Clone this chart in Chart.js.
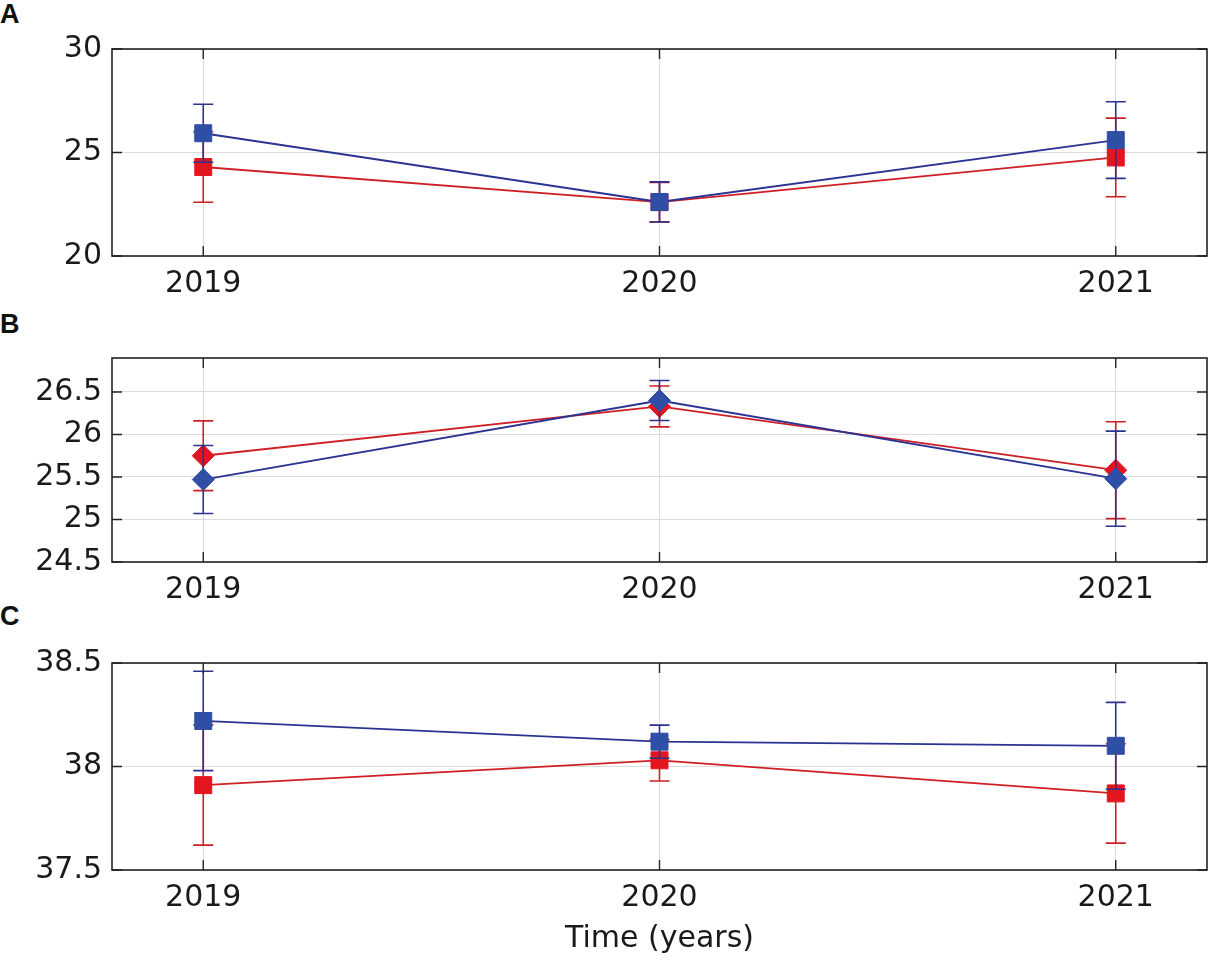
<!DOCTYPE html>
<html>
<head>
<meta charset="utf-8">
<script src="https://cdn.jsdelivr.net/npm/chart.js@4"></script>
<style>
  body { margin: 0; background: #fff; width: 1210px; height: 962px; position: relative; overflow: hidden; }
  canvas { position: absolute; left: 0; }
  .tag { position: absolute; left: 0; font-family: "Liberation Sans", Arial, sans-serif; font-weight: bold; font-size: 27px; line-height: 27px; color: #111; }
</style>
</head>
<body>
<div class="tag" style="top:1px">A</div>
<div class="tag" style="top:311px">B</div>
<div class="tag" style="top:603px">C</div>
<canvas id="chartA" width="1210" height="310" style="top:0"></canvas>
<canvas id="chartB" width="1210" height="300" style="top:310px"></canvas>
<canvas id="chartC" width="1210" height="352" style="top:610px"></canvas>
<script>
// x positions
var years = [2019, 2020, 2021];

// panel A
var aRed = [24.3, 22.6, 24.76];
var aRedErr = [1.7, 0.95, 1.9];
var aBlue = [25.93, 22.61, 25.6];
var aBlueErr = [1.4, 0.97, 1.85];
var aTicks = [20, 25, 30];

// panel B
var bRed = [25.75, 26.33, 25.58];
var bRedErr = [0.41, 0.24, 0.57];
var bBlue = [25.47, 26.4, 25.48];
var bBlueErr = [0.4, 0.235, 0.56];
var bTicks = [24.5, 25, 25.5, 26, 26.5];

// panel C
var cRed = [37.91, 38.03, 37.87];
var cRedErr = [0.29, 0.1, 0.24];
var cBlue = [38.22, 38.12, 38.1];
var cBlueErr = [0.24, 0.08, 0.21];
var cTicks = [37.5, 38, 38.5];

var RED = "#e3161f", RED_LINE = "#cf1f26";
var BLUE = "#2f4ea6", BLUE_LINE = "#2a3391";

Chart.defaults.font.family = "DejaVu Sans";
Chart.defaults.color = "#1a1a1a";

function pts(vals) {
  return years.map(function (y, i) { return { x: y, y: vals[i] }; });
}

// error bars drawn just before each dataset, so markers sit on top
var errorBars = {
  id: "errorBars",
  beforeDatasetDraw: function (chart, args) {
    var ds = chart.data.datasets[args.index];
    if (!ds.err) return;
    var xs = chart.scales.x, ys = chart.scales.y, ctx = chart.ctx;
    ctx.save();
    ctx.strokeStyle = ds.borderColor;
    ctx.lineWidth = 1.6;
    ds.data.forEach(function (p, i) {
      var x = xs.getPixelForValue(p.x);
      var y1 = ys.getPixelForValue(p.y + ds.err[i]);
      var y2 = ys.getPixelForValue(p.y - ds.err[i]);
      ctx.beginPath();
      ctx.moveTo(x, y1); ctx.lineTo(x, y2);
      ctx.moveTo(x - 10, y1); ctx.lineTo(x + 10, y1);
      ctx.moveTo(x - 10, y2); ctx.lineTo(x + 10, y2);
      ctx.stroke();
    });
    ctx.restore();
  }
};

// box frame with inward ticks
var frame = {
  id: "frame",
  afterDraw: function (chart) {
    var a = chart.chartArea, ctx = chart.ctx;
    ctx.save();
    ctx.strokeStyle = "#222";
    ctx.lineWidth = 1.6;
    ctx.strokeRect(a.left, a.top, a.right - a.left, a.bottom - a.top);
    ctx.lineWidth = 1.4;
    ctx.beginPath();
    chart.scales.x.ticks.forEach(function (t) {
      var x = chart.scales.x.getPixelForValue(t.value);
      ctx.moveTo(x, a.bottom); ctx.lineTo(x, a.bottom - 10);
      ctx.moveTo(x, a.top); ctx.lineTo(x, a.top + 10);
    });
    chart.scales.y.ticks.forEach(function (t) {
      var y = chart.scales.y.getPixelForValue(t.value);
      ctx.moveTo(a.left, y); ctx.lineTo(a.left + 10, y);
      ctx.moveTo(a.right, y); ctx.lineTo(a.right - 10, y);
    });
    ctx.stroke();
    ctx.restore();
  }
};

function makePanel(id, red, redErr, blue, blueErr, yTicks, yMax, style, radius, padTop, xHeight, showTitle) {
  return new Chart(document.getElementById(id), {
    type: "line",
    data: {
      datasets: [
        {
          label: "blue", data: pts(blue), err: blueErr,
          borderColor: BLUE_LINE, borderWidth: 1.8,
          pointStyle: style, pointRadius: radius, pointHoverRadius: radius,
          pointBackgroundColor: BLUE, pointBorderColor: BLUE, pointBorderWidth: 1
        },
        {
          label: "red", data: pts(red), err: redErr,
          borderColor: RED_LINE, borderWidth: 1.8,
          pointStyle: style, pointRadius: radius, pointHoverRadius: radius,
          pointBackgroundColor: RED, pointBorderColor: RED, pointBorderWidth: 1
        }
      ]
    },
    options: {
      responsive: false,
      animation: false,
      events: [],
      layout: { autoPadding: false, padding: { top: padTop, right: 3, left: 0, bottom: 0 } },
      plugins: { legend: { display: false }, tooltip: { enabled: false } },
      scales: {
        x: {
          type: "linear", min: 2018.8, max: 2021.2,
          afterBuildTicks: function (s) { s.ticks = years.map(function (v) { return { value: v }; }); },
          afterFit: function (s) { s.height = xHeight; s.paddingLeft = 0; s.paddingRight = 0; },
          grid: { color: "#dcdcdc", lineWidth: 1, drawTicks: false },
          border: { display: false },
          ticks: { padding: 10, font: { size: 30 }, color: "#1a1a1a", callback: function (v) { return String(v); } },
          title: { display: showTitle, text: "Time (years)", font: { size: 30 }, color: "#1a1a1a", padding: { top: 0, bottom: 5 } }
        },
        y: {
          min: yTicks[0], max: yMax,
          afterBuildTicks: function (s) { s.ticks = yTicks.map(function (v) { return { value: v }; }); },
          afterFit: function (s) { s.width = 112; s.paddingTop = 0; s.paddingBottom = 0; },
          grid: { color: "#dcdcdc", lineWidth: 1, drawTicks: false },
          border: { display: false },
          ticks: { padding: 10, font: { size: 30 }, color: "#1a1a1a", callback: function (v) { return String(v); } }
        }
      }
    },
    plugins: [errorBars, frame]
  });
}

makePanel("chartA", aRed, aRedErr, aBlue, aBlueErr, aTicks, 30, "rect", 12, 49, 54, false);
makePanel("chartB", bRed, bRedErr, bBlue, bBlueErr, bTicks, 26.9, "rectRot", 11, 48, 48, false);
makePanel("chartC", cRed, cRedErr, cBlue, cBlueErr, cTicks, 38.5, "rect", 12, 53, 92, true);
</script>
</body>
</html>
